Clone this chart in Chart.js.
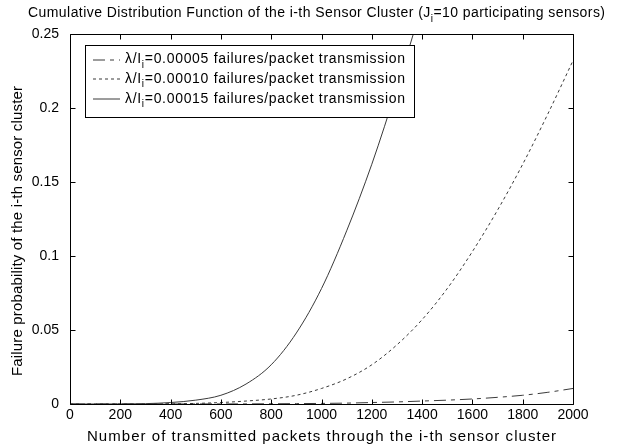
<!DOCTYPE html>
<html>
<head>
<meta charset="utf-8">
<script src="https://cdn.jsdelivr.net/npm/chart.js@4.4.1/dist/chart.umd.min.js"></script>
<style>
html,body{margin:0;padding:0;background:#fff;}
#wrap{width:634px;height:448px;}
</style>
</head>
<body>
<div id="wrap"><canvas id="c" width="634" height="448"></canvas></div>
<script>
// ---- data ----
const packets = [0,100,200,300,400,500,600,700,800,900,1000,1100,1200,1300,1400,1500,1600,1700,1800,1900,2000];
const rate00005 = [0,0,0,0,0.00001,0.00002,0.00004,0.00007,0.00015,0.00025,0.0004,0.0006,0.0010,0.0014,0.0020,0.0026,0.0034,0.0045,0.0059,0.0079,0.0105];
const rate00010 = [0,0,0.000001,0.00003,0.00015,0.0004,0.0010,0.0020,0.0034,0.0059,0.0105,0.017,0.0265,0.040,0.057,0.078,0.103,0.131,0.162,0.196,0.232];
const rate00015 = [0,0,0.00005,0.00025,0.0010,0.0026,0.0059,0.0135,0.0265,0.048,0.078,0.117,0.162,0.214,0.270,0.330];
const seriesLabels = ["0.00005","0.00010","0.00015"];
const xTickLabels = ["0","200","400","600","800","1000","1200","1400","1600","1800","2000"];
const yTickLabels = ["0","0.05","0.1","0.15","0.2","0.25"];
const titleParts = [["Cumulative Distribution Function of the i-th Sensor Cluster (J",false],["i",true],["=10 participating sensors)",false]];
const xTitle = "Number of transmitted packets through the i-th sensor cluster";
const yTitle = "Failure probability of the i-th sensor cluster";

const FONT = "'Liberation Sans', Arial, Helvetica, sans-serif";
const dashes = [[12,5,4,5],[3,3],[]];
const seriesData = [rate00005, rate00010, rate00015];

function pts(arr){ return arr.map((v,i)=>({x:packets[i], y:v})); }

const datasets = seriesData.map((arr,k)=>({
  label: "\u03bb/I\u1d62=" + seriesLabels[k] + " failures/packet transmission",
  data: pts(arr),
  borderColor: '#3a3a3a',
  borderWidth: 1,
  borderDash: dashes[k],
  pointRadius: 0,
  fill: false,
  cubicInterpolationMode: 'monotone'
}));

function partFont(sub, size){ return (sub ? Math.round(size*0.72) : size) + "px " + FONT; }
function measureParts(ctx, parts, size, sp){
  let w = 0;
  for (const [t, sub] of parts){
    ctx.font = partFont(sub, size);
    for (const ch of t) w += ctx.measureText(ch).width + sp;
  }
  return w - sp;
}
function spacingFor(ctx, parts, size, target){
  const w0 = measureParts(ctx, parts, size, 0);
  let n = 0; for (const [t] of parts) n += [...t].length;
  return Math.max(0, (target - w0) / (n - 1));
}
function drawParts(ctx, x, y, parts, size, sp){
  let cx = x;
  for (const [t, sub] of parts){
    ctx.font = partFont(sub, size);
    for (const ch of t){
      ctx.fillText(ch, cx, sub ? y + size*0.38 : y);
      cx += ctx.measureText(ch).width + sp;
    }
  }
  return cx;
}

const decor = {
  id: 'decor',
  beforeDraw(chart){
    const ctx = chart.ctx;
    ctx.save();
    ctx.fillStyle = '#fff';
    ctx.fillRect(0,0,chart.width,chart.height);
    ctx.restore();
  },
  afterDraw(chart){
    const ctx = chart.ctx;
    const a = chart.chartArea;
    const xs = chart.scales.x, ys = chart.scales.y;
    ctx.save();
    ctx.strokeStyle = '#000';
    ctx.lineWidth = 1;
    const L = Math.round(a.left)+0.5, R = Math.round(a.right)+0.5, T = Math.round(a.top)+0.5, B = Math.round(a.bottom)+0.5;
    ctx.beginPath();
    ctx.rect(L, T, R-L, B-T);
    const tl = 5;
    xs.ticks.forEach(t=>{
      const px = Math.round(xs.getPixelForValue(t.value))+0.5;
      ctx.moveTo(px, B); ctx.lineTo(px, B-tl);
      ctx.moveTo(px, T); ctx.lineTo(px, T+tl);
    });
    ys.ticks.forEach(t=>{
      const py = Math.round(ys.getPixelForValue(t.value))+0.5;
      ctx.moveTo(L, py); ctx.lineTo(L+tl, py);
      ctx.moveTo(R, py); ctx.lineTo(R-tl, py);
    });
    ctx.stroke();

    ctx.fillStyle = '#000';
    ctx.textBaseline = 'middle';
    ctx.textAlign = 'left';

    const sT = spacingFor(ctx, titleParts, 14, 577);
    drawParts(ctx, 28, 13.5, titleParts, 14, sT);

    const xP = [[xTitle,false]];
    const xw = 469;
    const sX = spacingFor(ctx, xP, 15, xw);
    const cxm = (a.left + a.right)/2;
    drawParts(ctx, cxm - xw/2, 437, xP, 15, sX);

    const yP = [[yTitle,false]];
    const yw = 290;
    const sY = spacingFor(ctx, yP, 15, yw);
    const cym = (a.top + a.bottom)/2 + 12;
    ctx.save();
    ctx.translate(18, cym);
    ctx.rotate(-Math.PI/2);
    drawParts(ctx, -yw/2, 0, yP, 15, sY);
    ctx.restore();

    const bx = 85.5, by = 45.5, bw = 329, bh = 72;
    ctx.fillStyle = '#fff';
    ctx.fillRect(bx, by, bw, bh);
    ctx.strokeStyle = '#000';
    ctx.setLineDash([]);
    ctx.strokeRect(bx, by, bw, bh);
    const rows = [59.5, 79, 99];
    for (let k=0;k<3;k++){
      const y = rows[k];
      const lp = [["\u03bb/I",false],["i",true],["="+seriesLabels[k]+" failures/packet transmission",false]];
      ctx.strokeStyle = '#3a3a3a';
      ctx.setLineDash(dashes[k]);
      ctx.beginPath();
      ctx.moveTo(93, Math.round(y)); ctx.lineTo(120, Math.round(y));
      ctx.stroke();
      ctx.setLineDash([]);
      ctx.fillStyle = '#000';
      const sL = spacingFor(ctx, lp, 14, 280);
      drawParts(ctx, 125, y, lp, 14, sL);
    }
    ctx.restore();
  }
};

new Chart(document.getElementById('c'), {
  type: 'line',
  data: { datasets },
  options: {
    responsive: false,
    animation: false,
    events: [],
    layout: { padding: { top: 34, right: 61, left: 0, bottom: 0 } },
    plugins: { legend: { display: false }, title: { display: false }, tooltip: { enabled: false } },
    scales: {
      x: {
        type: 'linear', min: 0, max: 2000,
        ticks: { stepSize: 200, color: '#000', font: { size: 14, family: FONT }, padding: 3, maxRotation: 0, autoSkip: false,
          callback: (v)=> xTickLabels[Math.round(v/200)] },
        grid: { display: false, drawTicks: false },
        border: { display: false },
        title: { display: false, text: xTitle },
        afterFit(s){ s.height = 44; }
      },
      y: {
        type: 'linear', min: 0, max: 0.25,
        ticks: { stepSize: 0.05, color: '#000', font: { size: 14, family: FONT }, padding: 11,
          callback: (v)=> yTickLabels[Math.round(v/0.05)] },
        grid: { display: false, drawTicks: false },
        border: { display: false },
        title: { display: false, text: yTitle },
        afterFit(s){ s.width = 70; }
      }
    }
  },
  plugins: [decor]
});
</script>
</body>
</html>
